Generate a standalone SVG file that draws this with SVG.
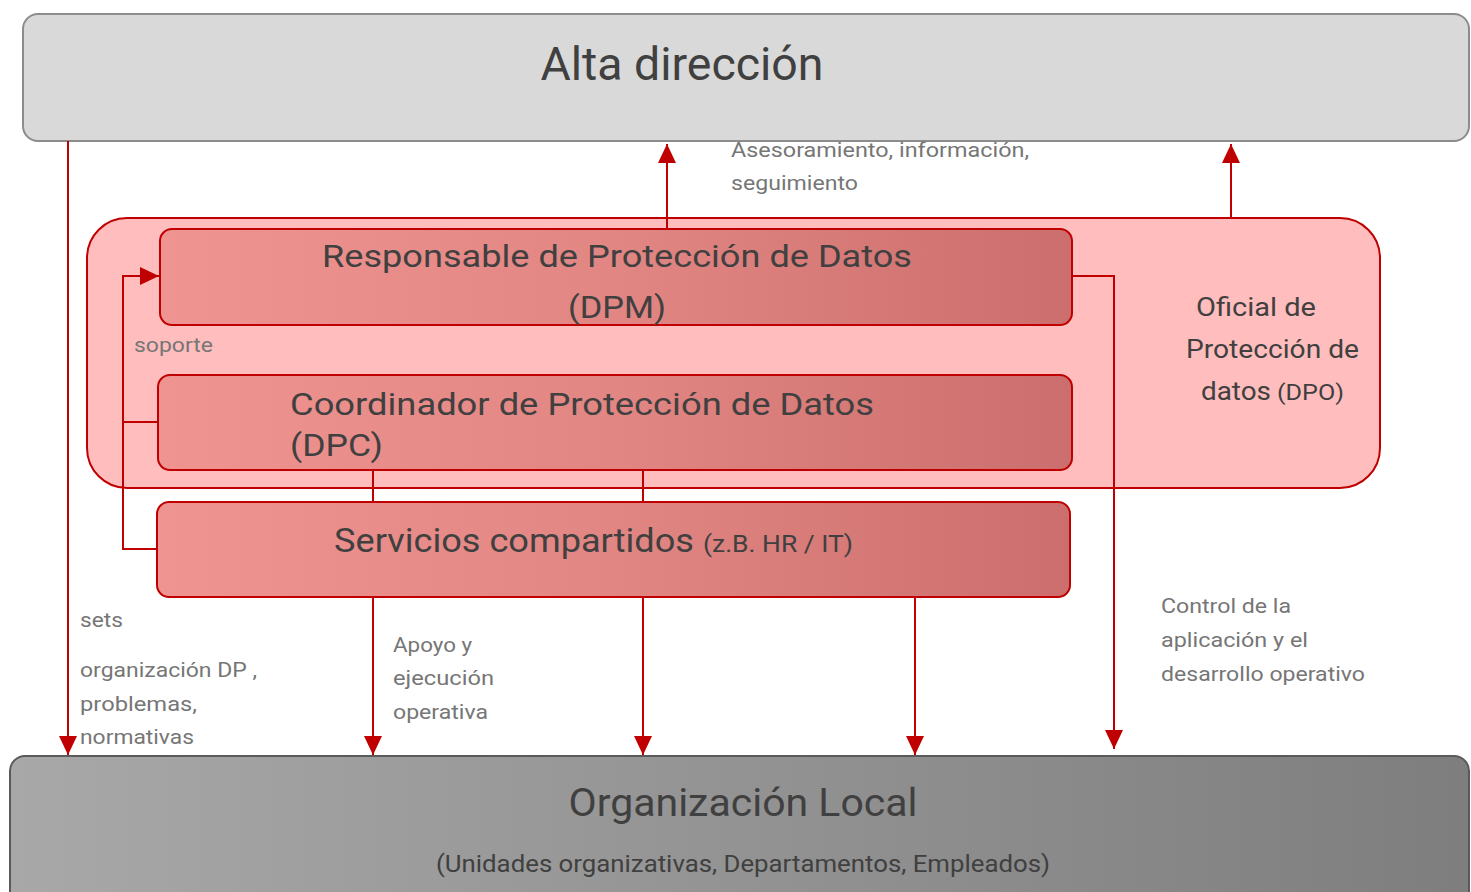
<svg xmlns="http://www.w3.org/2000/svg" width="1471" height="892" viewBox="0 0 1471 892">
<defs>
<linearGradient id="gRed" x1="0" y1="0" x2="1" y2="0">
<stop offset="0" stop-color="#F09492"/>
<stop offset="0.5" stop-color="#E28683"/>
<stop offset="1" stop-color="#CB6E6D"/>
</linearGradient>
<linearGradient id="gGray" x1="0" y1="0" x2="1" y2="0">
<stop offset="0" stop-color="#A8A8A8"/>
<stop offset="1" stop-color="#7E7E7E"/>
</linearGradient>
<marker id="arr" markerUnits="userSpaceOnUse" markerWidth="20" markerHeight="18" refX="19" refY="9" orient="auto" viewBox="0 0 20 18">
<path d="M0,0 L19,9 L0,18 z" fill="#C00000"/>
</marker>
<style>
.t{font-family:"Roboto","Liberation Sans",sans-serif;fill:#404040}
.n{font-family:"Roboto","Liberation Sans",sans-serif;fill:#767676;font-size:21px}
.red{fill:url(#gRed);stroke:#C00000;stroke-width:2}
.c{fill:none;stroke:#C00000;stroke-width:2}
.ca{fill:none;stroke:#C00000;stroke-width:2;marker-end:url(#arr)}
</style>
</defs>
<g id="alta">
<rect x="23" y="14" width="1446" height="127" rx="15" fill="#D9D9D9" stroke="#8C8C8C" stroke-width="2"/>
<text class="t" x="682" y="80" font-size="46" text-anchor="middle" textLength="283" lengthAdjust="spacingAndGlyphs">Alta dirección</text>
</g>
<g id="local">
<rect x="10" y="756" width="1459" height="160" rx="15" fill="url(#gGray)" stroke="#5A5A5A" stroke-width="2"/>
<text class="t" x="743" y="816" font-size="39" text-anchor="middle" textLength="349" lengthAdjust="spacingAndGlyphs">Organización Local</text>
<text class="t" x="743" y="872" font-size="23" text-anchor="middle" textLength="614" lengthAdjust="spacingAndGlyphs">(Unidades organizativas, Departamentos, Empleados)</text>
</g>
<g id="dpo">
<rect x="87" y="218" width="1293" height="270" rx="40" fill="#FFBDBD" stroke="#C00000" stroke-width="2"/>
<text class="t" x="1196" y="316" font-size="25" textLength="120" lengthAdjust="spacingAndGlyphs">Oficial de</text>
<text class="t" x="1186" y="358" font-size="25" textLength="173" lengthAdjust="spacingAndGlyphs">Protección de</text>
<text class="t" x="1201" y="400" font-size="25"><tspan textLength="70" lengthAdjust="spacingAndGlyphs">datos</tspan><tspan x="1277" font-size="22" textLength="67" lengthAdjust="spacingAndGlyphs">(DPO)</tspan></text>
<text class="n" x="134" y="352" fill="#7F7F7F" textLength="79" lengthAdjust="spacingAndGlyphs">soporte</text>
</g>
<g id="connectors">
<path class="ca" d="M68,141 V755"/>
<path class="ca" d="M667,228 V144"/>
<path class="ca" d="M1231,218 V144"/>
<path class="ca" d="M157,549 H123 V276 H159"/>
<path class="c" d="M158,422 H123"/>
<path class="c" d="M373,470 V502"/>
<path class="c" d="M643,470 V502"/>
<path class="ca" d="M373,597 V755"/>
<path class="ca" d="M643,597 V755"/>
<path class="ca" d="M915,597 V755"/>
<path class="ca" d="M1072,276 H1114 V749"/>
<text class="n" x="731" y="157" textLength="298" lengthAdjust="spacingAndGlyphs">Asesoramiento, información,</text>
<text class="n" x="731" y="190" textLength="127" lengthAdjust="spacingAndGlyphs">seguimiento</text>
<text class="n" x="80" y="627" textLength="43" lengthAdjust="spacingAndGlyphs">sets</text>
<text class="n" x="80" y="677" textLength="177" lengthAdjust="spacingAndGlyphs">organización DP ,</text>
<text class="n" x="80" y="711" textLength="117" lengthAdjust="spacingAndGlyphs">problemas,</text>
<text class="n" x="80" y="744" textLength="114" lengthAdjust="spacingAndGlyphs">normativas</text>
<text class="n" x="393" y="652" textLength="79" lengthAdjust="spacingAndGlyphs">Apoyo y</text>
<text class="n" x="393" y="685" textLength="101" lengthAdjust="spacingAndGlyphs">ejecución</text>
<text class="n" x="393" y="719" textLength="95" lengthAdjust="spacingAndGlyphs">operativa</text>
<text class="n" x="1161" y="613" textLength="130" lengthAdjust="spacingAndGlyphs">Control de la</text>
<text class="n" x="1161" y="647" textLength="147" lengthAdjust="spacingAndGlyphs">aplicación y el</text>
<text class="n" x="1161" y="681" textLength="204" lengthAdjust="spacingAndGlyphs">desarrollo operativo</text>
</g>
<g id="dpm">
<rect class="red" x="160" y="229" width="912" height="96" rx="12"/>
<text class="t" x="617" y="267" font-size="32" text-anchor="middle" textLength="590" lengthAdjust="spacingAndGlyphs">Responsable de Protección de Datos</text>
<text class="t" x="617" y="318" font-size="32" text-anchor="middle" textLength="98" lengthAdjust="spacingAndGlyphs">(DPM)</text>
</g>
<g id="dpc">
<rect class="red" x="158" y="375" width="914" height="95" rx="12"/>
<text class="t" x="290" y="415" font-size="32" textLength="584" lengthAdjust="spacingAndGlyphs">Coordinador de Protección de Datos</text>
<text class="t" x="290" y="456" font-size="32" textLength="93" lengthAdjust="spacingAndGlyphs">(DPC)</text>
</g>
<g id="servicios">
<rect class="red" x="157" y="502" width="913" height="95" rx="12"/>
<text class="t" x="334" y="552" font-size="34"><tspan textLength="360" lengthAdjust="spacingAndGlyphs">Servicios compartidos</tspan><tspan x="703" font-size="24" textLength="150" lengthAdjust="spacingAndGlyphs">(z.B. HR / IT)</tspan></text>
</g>
</svg>
